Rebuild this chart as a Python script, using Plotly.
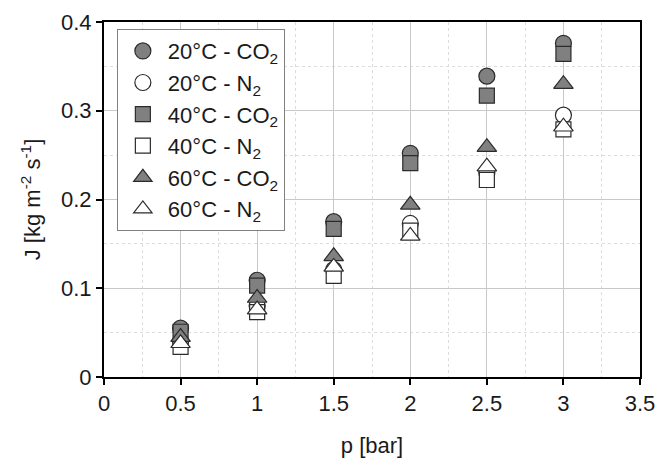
import plotly.graph_objects as go

pressure = [0.5, 1.0, 1.5, 2.0, 2.5, 3.0]
series_names = ["20°C - CO<sub>2</sub>", "20°C - N<sub>2</sub>",
                "40°C - CO<sub>2</sub>", "40°C - N<sub>2</sub>",
                "60°C - CO<sub>2</sub>", "60°C - N<sub>2</sub>"]
j_20_co2 = [0.055, 0.109, 0.175, 0.252, 0.339, 0.376]
j_20_n2 = [0.040, 0.080, 0.121, 0.173, 0.230, 0.295]
j_40_co2 = [0.051, 0.103, 0.167, 0.241, 0.317, 0.364]
j_40_n2 = [0.034, 0.073, 0.114, 0.165, 0.222, 0.279]
j_60_co2 = [0.045, 0.089, 0.136, 0.194, 0.259, 0.330]
j_60_n2 = [0.038, 0.076, 0.124, 0.159, 0.237, 0.282]

series_values = [j_20_co2, j_20_n2, j_40_co2, j_40_n2, j_60_co2, j_60_n2]
symbols = ["circle", "circle", "square", "square", "triangle-up", "triangle-up"]
fills = ["#808080", "#ffffff", "#808080", "#ffffff", "#808080", "#ffffff"]
sizes = [16, 16, 15, 15, 17, 17]

fig = go.Figure()
for name, vals, sym, fc, sz in zip(series_names, series_values, symbols, fills, sizes):
    fig.add_trace(go.Scatter(
        x=pressure, y=vals, mode="markers", name=name,
        marker=dict(symbol=sym, size=sz, color=fc,
                    line=dict(color="#2b2b2b", width=1.2)),
    ))

font_family = "Liberation Sans, Arial, sans-serif"
axis_common = dict(
    showline=True, linecolor="black", linewidth=2, mirror=True,
    ticks="outside", ticklen=6, tickcolor="black", tickwidth=1.5,
    showgrid=True, gridcolor="#c8c8c8", gridwidth=1,
    zeroline=False, automargin=False,
    tickfont=dict(size=22, color="#1a1a1a", family=font_family),
)

fig.update_xaxes(
    range=[0, 3.5], dtick=0.5, tick0=0,
    title=dict(text="p [bar]", font=dict(size=22, color="#1a1a1a", family=font_family), standoff=22),
    minor=dict(dtick=0.25, showgrid=True, gridcolor="#dcdcdc", griddash="dot", ticks=""),
    **axis_common,
)
fig.update_yaxes(
    range=[0, 0.4], dtick=0.1, tick0=0,
    title=dict(text="J [kg m<sup>-2</sup> s<sup>-1</sup>]", font=dict(size=22, color="#1a1a1a", family=font_family), standoff=14),
    minor=dict(dtick=0.05, showgrid=True, gridcolor="#dcdcdc", griddash="dot", ticks=""),
    **axis_common,
)

fig.update_layout(
    width=658, height=461,
    margin=dict(l=104, r=18, t=22, b=84),
    plot_bgcolor="white", paper_bgcolor="white",
    font=dict(family=font_family, color="#1a1a1a"),
    legend=dict(
        x=0.024, y=0.98, xanchor="left", yanchor="top",
        bgcolor="white", bordercolor="#808080", borderwidth=1,
        font=dict(size=22, family=font_family, color="#1a1a1a"),
        itemsizing="trace", itemwidth=40,
    ),
    showlegend=True,
)

fig.write_html("out.html")
